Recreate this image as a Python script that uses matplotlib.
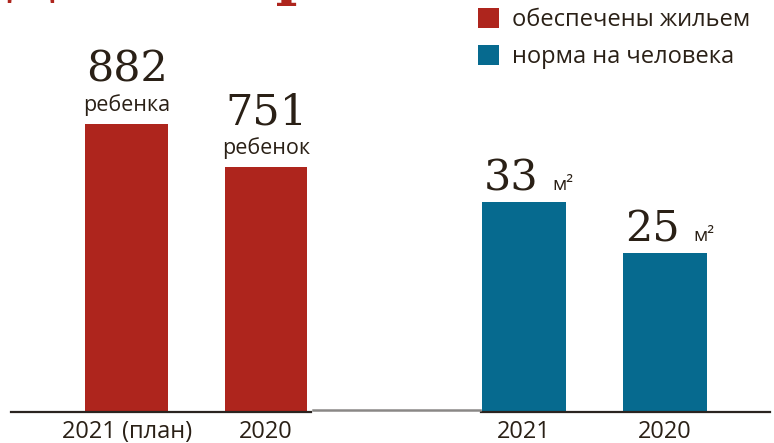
import matplotlib
matplotlib.use("Agg")
import matplotlib.pyplot as plt
from matplotlib.patches import Patch
from matplotlib.lines import Line2D

# ---- data ----
children_years = ["2021 (план)", "2020"]
children_values = [882, 751]
children_units = ["ребенка", "ребенок"]

norm_years = ["2021", "2020"]
norm_values = [33, 25]
norm_unit = "м²"

legend_labels = ["обеспечены жильем", "норма на человека"]
title_text = "Дети-сироты"

# ---- style ----
RED = "#AE251D"
TEAL = "#066A8F"
TXT = "#2A2016"
SANS = ["Open Sans", "DejaVu Sans"]
SERIF = ["DejaVu Serif"]

W, H = 774, 443
fig = plt.figure(figsize=(W / 100, H / 100), dpi=100)
fig.patch.set_facecolor("white")

base_px = 412  # baseline from top

def fx(px):
    return px / W

def fy(py):
    return 1 - py / H

# left axes (children)
axL = fig.add_axes([fx(11), fy(base_px), fx(311 - 11), base_px / H])
# right axes (norm)
axR = fig.add_axes([fx(481), fy(base_px), fx(770 - 481), base_px / H])

for ax in (axL, axR):
    ax.set_facecolor("none")
    for s in ("top", "right", "left"):
        ax.spines[s].set_visible(False)
    ax.spines["bottom"].set_color("#2a2420")
    ax.spines["bottom"].set_linewidth(1.6)
    ax.set_yticks([])
    ax.tick_params(axis="x", length=0, pad=6)

# left group
xL = list(range(len(children_values)))
axL.bar(xL, children_values, width=0.593, color=RED)
axL.set_xlim(-0.829, 1.322)
axL.set_ylim(0, base_px / 0.326)
axL.set_xticks(xL)
axL.set_xticklabels(children_years, fontsize=17, color=TXT, family=SANS)

for x, v, u in zip(xL, children_values, children_units):
    axL.annotate(u, xy=(x, v), xytext=(0, 13), textcoords="offset pixels",
                 ha="center", va="baseline", fontsize=15.5, color=TXT, family=SANS)
    axL.annotate(str(v), xy=(x, v), xytext=(0, 43), textcoords="offset pixels",
                 ha="center", va="baseline", fontsize=31, color=TXT, family=SERIF)

# right group
xR = list(range(len(norm_values)))
bw = 0.596
axR.bar(xR, norm_values, width=bw, color=TEAL)
axR.set_xlim(-0.305, 1.745)
axR.set_ylim(0, base_px / 6.36)
axR.set_xticks(xR)
axR.set_xticklabels(norm_years, fontsize=17, color=TXT, family=SANS)

for x, v in zip(xR, norm_values):
    axR.annotate(str(v), xy=(x - bw / 2, v), xytext=(2, 12), textcoords="offset pixels",
                 ha="left", va="baseline", fontsize=31, color=TXT, family=SERIF)
    axR.annotate(norm_unit, xy=(x - bw / 2, v), xytext=(70, 12), textcoords="offset pixels",
                 ha="left", va="baseline", fontsize=14, color=TXT, family=SANS)

# gray connecting baseline segment
fig.add_artist(Line2D([fx(313), fx(480)], [fy(410), fy(410)], color="#8a8886",
                      linewidth=1.8, transform=fig.transFigure))

# legend
handles = [Patch(facecolor=RED, edgecolor="none"), Patch(facecolor=TEAL, edgecolor="none")]
leg = fig.legend(handles, legend_labels, loc="upper left",
                 bbox_to_anchor=(fx(478), fy(8)), frameon=False,
                 prop={"family": SANS, "size": 17}, labelcolor=TXT,
                 handlelength=0.9, handleheight=0.9, handletextpad=0.55,
                 labelspacing=0.55, borderpad=0, borderaxespad=0)

# cropped title (only descenders visible at the top edge, as in the reference)
fig.text(fx(4), fy(-6.5), title_text, ha="left", va="baseline",
         fontsize=42, fontweight="bold", color=RED, family=SERIF)

fig.savefig("out.png", dpi=100, facecolor="white")
